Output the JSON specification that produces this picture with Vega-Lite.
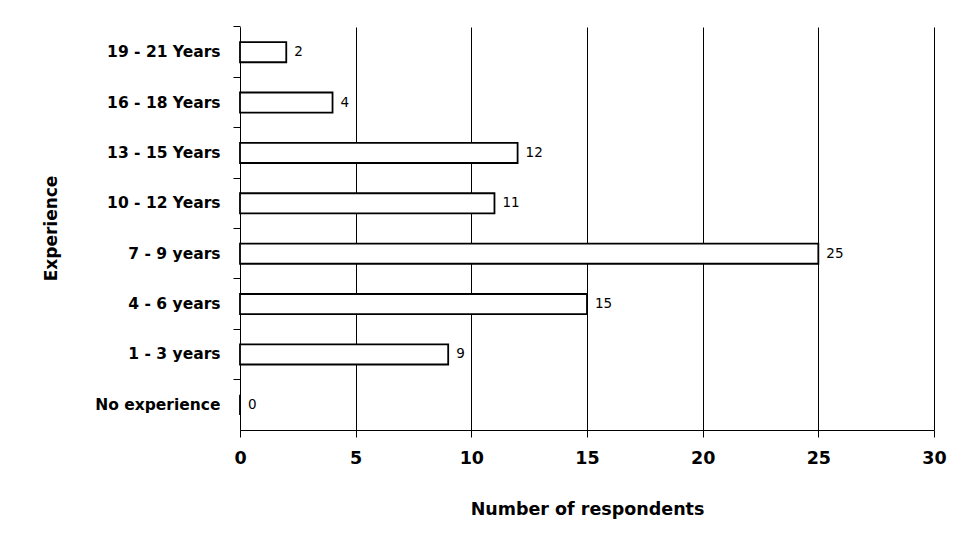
{
  "$schema": "https://vega.github.io/schema/vega-lite/v6.json",
  "width": 694,
  "height": 403,
  "autosize": {"type": "none"},
  "padding": {"left": 240, "top": 27, "right": 31, "bottom": 124},
  "background": "white",
  "config": {
    "font": "DejaVu Sans",
    "view": {"stroke": null}
  },
  "data": {
    "values": [
      {"experience": "19 - 21 Years", "respondents": 2},
      {"experience": "16 - 18 Years", "respondents": 4},
      {"experience": "13 - 15 Years", "respondents": 12},
      {"experience": "10 - 12 Years", "respondents": 11},
      {"experience": "7 - 9 years", "respondents": 25},
      {"experience": "4 - 6 years", "respondents": 15},
      {"experience": "1 - 3 years", "respondents": 9},
      {"experience": "No experience", "respondents": 0}
    ]
  },
  "encoding": {
    "y": {
      "field": "experience",
      "type": "nominal",
      "sort": null,
      "scale": {"paddingInner": 0.6, "paddingOuter": 0.3},
      "axis": {
        "title": "Experience",
        "titleFont": "DejaVu Sans",
        "titleFontSize": 17,
        "titleFontWeight": "bold",
        "titleColor": "black",
        "titleAngle": -90,
        "titleX": -180,
        "titleY": 201,
        "labelFontSize": 15.5,
        "labelFontWeight": "bold",
        "labelColor": "black",
        "labelPadding": 13,
        "tickSize": 7,
        "tickColor": "black",
        "domainColor": "black",
        "bandPosition": -0.75,
        "grid": false
      }
    },
    "x": {
      "field": "respondents",
      "type": "quantitative",
      "scale": {"domain": [0, 30], "nice": false},
      "axis": {
        "title": "Number of respondents",
        "titleFontSize": 17.5,
        "titleFontWeight": "bold",
        "titleColor": "black",
        "titlePadding": 34,
        "values": [0, 5, 10, 15, 20, 25, 30],
        "labelFlush": false,
        "labelFontSize": 17.5,
        "labelFontWeight": "bold",
        "labelColor": "black",
        "labelPadding": 12,
        "tickSize": 7,
        "tickColor": "black",
        "domainColor": "black",
        "grid": true,
        "gridColor": "black",
        "gridOpacity": 1,
        "gridWidth": 1
      }
    }
  },
  "layer": [
    {
      "mark": {"type": "bar", "fill": "white", "stroke": "black", "strokeWidth": 1.8}
    },
    {
      "mark": {"type": "text", "align": "left", "baseline": "middle", "dx": 8, "fontSize": 13.5, "color": "black"},
      "encoding": {"text": {"field": "respondents", "type": "quantitative"}}
    }
  ]
}
